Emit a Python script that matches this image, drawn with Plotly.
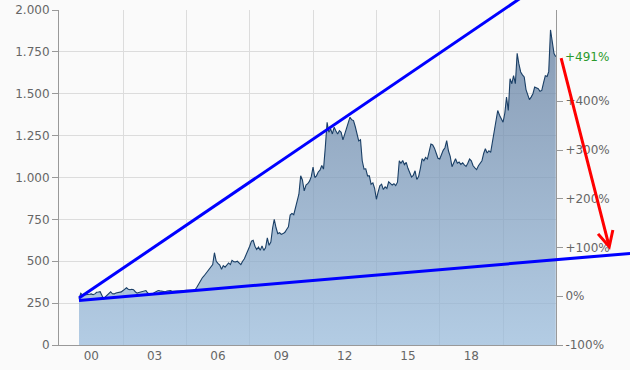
import pandas as pd
import plotly.graph_objects as go

# ---------------- data ----------------
prices = [
    275,
    309, 298, 302, 300, 300, 303, 305, 300, 305, 315, 316, 318,
    295, 273, 288, 300, 312, 318, 306, 305, 310, 312, 315, 317,
    325, 332, 342, 333, 330, 333, 330, 318, 310, 313, 316, 320,
    322, 325, 312, 304, 305, 306, 314, 320, 325, 323, 322, 320,
    318, 322, 324, 325, 321, 320, 321, 322, 322, 324, 326, 328,
    327, 326, 325, 327, 328, 330, 345, 365, 382, 400, 412, 425,
    435, 455, 465, 480, 551, 500, 488, 477, 452, 474, 465, 480,
    490, 480, 505, 497, 496, 500, 490, 480, 500, 515, 540, 562,
    590, 620, 625, 590, 570, 585, 565, 592, 565, 580, 640, 595,
    615, 700, 750, 700, 665, 670, 660, 665, 673, 690, 705, 776,
    786, 778, 820, 850, 900, 1010, 985, 920, 955, 963, 978, 1005,
    1062, 1000, 1010, 1033, 1044, 1072, 1050, 1180, 1330, 1270, 1290, 1260,
    1300, 1278, 1260, 1280, 1270, 1225, 1260, 1290, 1318, 1360, 1345, 1340,
    1303, 1262, 1218, 1225, 1100, 1050, 1052, 1010, 1010, 960, 968, 935,
    870, 915, 950, 960, 928, 944, 935, 974, 964, 955, 963, 952,
    972, 1100, 1085, 1102, 1077, 1090, 1055, 1030, 1003, 1013, 1040, 988,
    1005, 1055, 1112, 1100, 1120, 1110, 1150, 1200, 1194, 1175, 1145, 1115,
    1110, 1145, 1162, 1178, 1220, 1158, 1126, 1064, 1093, 1112, 1086, 1092,
    1078, 1088, 1075, 1066, 1085, 1110, 1100, 1070, 1058, 1047, 1070, 1083,
    1100, 1145, 1172, 1146, 1160, 1150, 1215, 1260, 1340, 1400, 1372, 1355,
    1330, 1385, 1480, 1400, 1590, 1560, 1608, 1560, 1741, 1678, 1630, 1613,
    1600, 1525, 1500, 1465, 1480, 1500, 1540, 1535, 1530, 1515, 1520, 1565,
    1608, 1603, 1632, 1881, 1795, 1740, 1721,
]
dates = pd.date_range("1999-12-01", periods=len(prices), freq="MS")

base_price = 291

x_label_dates = ["2000-07-01", "2003-07-01", "2006-07-01", "2009-07-01",
                 "2012-07-01", "2015-07-01", "2018-07-01"]
x_labels = ["00", "03", "06", "09", "12", "15", "18"]
x_grid_dates = ["2002-01-01", "2005-01-01", "2008-01-01", "2011-01-01",
                "2014-01-01", "2017-01-01", "2020-01-01"]

y_ticks = [0, 250, 500, 750, 1000, 1250, 1500, 1750, 2000]
pct_ticks = [-100, 0, 100, 200, 300, 400]
pct_labels = ["-100%", "0%", "+100%", "+200%", "+300%", "+400%"]

upper_trend_dates = ["1999-12-01", "2022-07-01"]
upper_trend_values = [280, 2214]
lower_trend_dates = ["1999-12-01", "2026-01-06"]
lower_trend_values = [266, 547]

arrow_tail_date = "2022-09-25"
arrow_head_date = "2025-01-25"
arrow_head_value = 567

# ---------------- layout geometry ----------------
W, H = 630, 370
ML, MR, MT, MB = 59, 0, 0, 25
plot_right_px = 556
plot_top_px = 10
paper_w = W - ML - MR
paper_h = H - MT - MB
x_dom_end = (plot_right_px - ML) / paper_w
y_dom_end = (paper_h - plot_top_px) / paper_h

x_start = pd.Timestamp("1998-12-20")
x_end = pd.Timestamp("2022-07-05")
x2_end = x_start + (x_end - x_start) / x_dom_end
y_max = 2000
y2_max = y_max / y_dom_end
pct_max = (y_max / base_price - 1) * 100
pct_now = (prices[-1] / base_price - 1) * 100

FONT = "DejaVu Sans"
TXT = "#666666"
AXC = "#999999"
GRID = "#dcdcdc"

fig = go.Figure()

fig.add_trace(go.Scatter(
    x=dates, y=prices, mode="lines",
    line=dict(color="#1a3f66", width=1.1),
    fill="tozeroy",
    fillgradient=dict(type="vertical",
                      colorscale=[[0, "rgba(151,186,219,0.72)"],
                                  [1, "rgba(95,122,156,0.74)"]],
                      start=0, stop=1900),
    hoverinfo="skip", xaxis="x", yaxis="y",
))

fig.add_trace(go.Scatter(
    x=upper_trend_dates, y=upper_trend_values, mode="lines",
    line=dict(color="#0000ff", width=3), xaxis="x2", yaxis="y2", hoverinfo="skip",
))
fig.add_trace(go.Scatter(
    x=lower_trend_dates, y=lower_trend_values, mode="lines",
    line=dict(color="#0000ff", width=3), xaxis="x2", yaxis="y2", hoverinfo="skip",
))

fig.update_layout(
    width=W, height=H,
    margin=dict(l=ML, r=MR, t=MT, b=MB, pad=0, autoexpand=False),
    paper_bgcolor="#fafafa",
    plot_bgcolor="rgba(0,0,0,0)",
    separators=",.",
    showlegend=False,
    font=dict(family=FONT, size=12, color=TXT),
    xaxis=dict(
        type="date", domain=[0, x_dom_end], anchor="y", automargin=False,
        range=[x_start, x_end],
        tickmode="array", tickvals=x_label_dates, ticktext=x_labels,
        ticks="", showgrid=False, zeroline=False,
        showline=True, linecolor=AXC, linewidth=1,
        minor=dict(tickmode="array", tickvals=x_grid_dates, showgrid=True,
                   gridcolor=GRID, gridwidth=1, ticks=""),
        tickfont=dict(family=FONT, size=12, color=TXT),
    ),
    yaxis=dict(
        domain=[0, y_dom_end], anchor="x", range=[0, y_max], automargin=False,
        tickmode="array", tickvals=y_ticks, tickformat=",d",
        ticks="outside", ticklen=6, tickcolor=AXC,
        showline=True, linecolor=AXC, linewidth=1,
        showgrid=True, gridcolor=GRID, gridwidth=1, zeroline=False,
        tickfont=dict(family=FONT, size=12, color=TXT),
    ),
    yaxis3=dict(
        overlaying="y", side="right", anchor="x", automargin=False,
        range=[-100, pct_max],
        tickmode="array", tickvals=pct_ticks, ticktext=pct_labels,
        ticks="outside", ticklen=6, tickcolor=AXC,
        showline=True, linecolor=AXC, linewidth=1,
        showgrid=False, zeroline=False,
        tickfont=dict(family=FONT, size=12, color=TXT),
    ),
    xaxis2=dict(type="date", domain=[0, 1], anchor="y2", automargin=False,
                range=[x_start, x2_end], visible=False),
    yaxis2=dict(domain=[0, 1], anchor="x2", automargin=False,
                range=[0, y2_max], visible=False),
)

fig.add_annotation(
    xref="x domain", yref="y3", x=1, y=pct_now,
    text=f"+{pct_now:.0f}%", showarrow=False, xanchor="left", xshift=7,
    font=dict(family=FONT, size=12, color="#2c9a2c"),
)
fig.add_annotation(
    xref="x2", yref="y2", axref="x2", ayref="y2",
    x=arrow_head_date, y=arrow_head_value,
    ax=arrow_tail_date, ay=prices[-1],
    text="", showarrow=True, arrowhead=5, arrowsize=1, arrowwidth=3,
    arrowcolor="#ff0000", standoff=0, startstandoff=0,
)

fig.write_html("out.html")
